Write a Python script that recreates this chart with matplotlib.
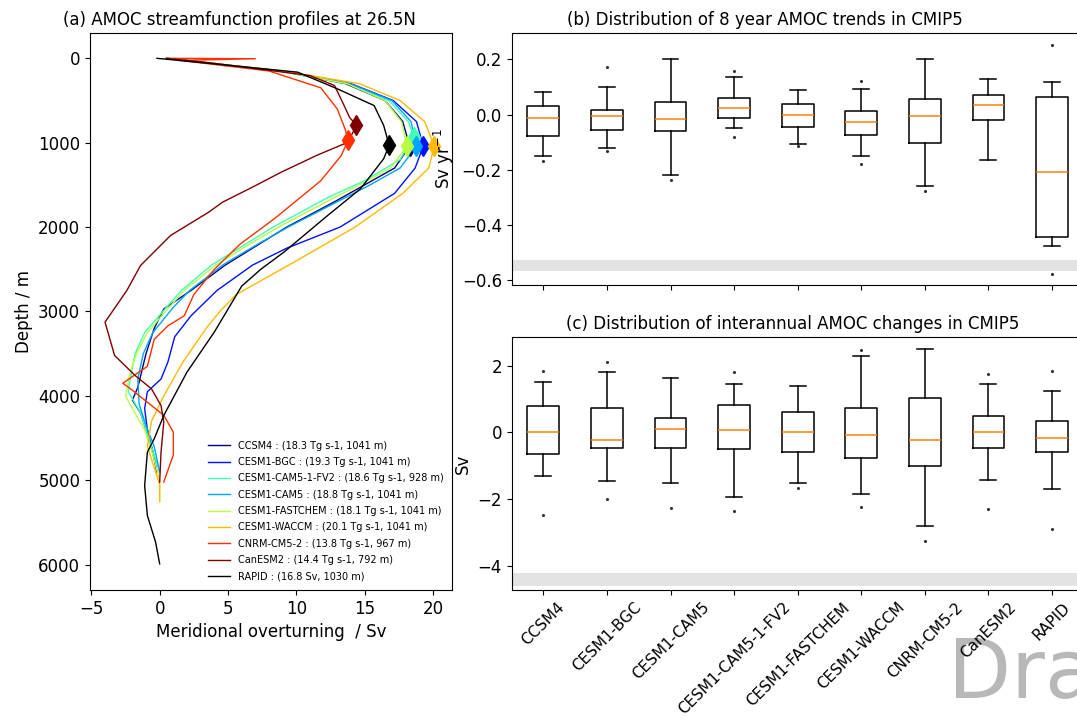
import matplotlib
matplotlib.use("Agg")
import matplotlib.pyplot as plt
import numpy as np

plt.rcParams['font.family'] = ['DejaVu Sans']
plt.rcParams['font.size'] = 12

# ---------------- AMOC profiles at 26.5N (depth in m, transport in Sv) ----------------
ccsm4_depth = [0, 50, 150, 300, 500, 750, 1041, 1300, 1500, 1700, 2000, 2200, 2450, 2750, 2970, 3200, 3500, 3900, 4050, 4200, 4450, 4650, 4900]
ccsm4_sv = [0.5, 3.3, 8.8, 13.6, 16.5, 17.8, 18.3, 17.2, 15.0, 12.8, 9.3, 7.3, 4.8, 2.3, 0.3, -0.4, -1.0, -1.6, -2.0, -1.4, -0.9, -0.5, -0.2]

bgc_depth = [0, 50, 150, 300, 500, 750, 1041, 1300, 1600, 2000, 2250, 2450, 2750, 3050, 3300, 3600, 3800, 3950, 4150, 4400, 4600, 4900]
bgc_sv = [0.5, 3.3, 8.9, 14.0, 17.1, 18.8, 19.3, 18.7, 17.2, 13.2, 9.3, 6.8, 4.2, 2.3, 1.1, 0.6, 0.1, -0.9, -1.1, -0.9, -0.6, -0.2]

fv2_depth = [0, 50, 150, 300, 500, 750, 928, 1200, 1450, 1650, 2000, 2200, 2450, 2750, 2950, 3250, 3500, 3750, 3950, 4200, 4450, 4700, 4900]
fv2_sv = [0.5, 3.3, 8.8, 13.8, 16.8, 18.2, 18.6, 17.6, 15.0, 12.3, 8.3, 6.3, 3.8, 1.6, 0.5, -1.1, -1.8, -2.1, -2.3, -1.4, -0.9, -0.4, 0.0]

cam5_depth = [0, 50, 150, 300, 500, 750, 1041, 1300, 1500, 1700, 2000, 2200, 2450, 2750, 2950, 3250, 3500, 3800, 4100, 4350, 4600, 4900]
cam5_sv = [0.5, 3.3, 8.9, 13.9, 17.0, 18.4, 18.8, 17.6, 15.4, 13.0, 9.4, 7.2, 4.6, 2.2, 1.0, -0.5, -1.2, -1.6, -1.5, -1.0, -0.4, 0.0]

fastchem_depth = [0, 50, 150, 300, 500, 750, 1041, 1300, 1500, 1700, 2000, 2200, 2450, 2750, 2950, 3250, 3500, 3750, 4000, 4150, 4400, 4700, 5000, 5250]
fastchem_sv = [0.5, 3.3, 8.8, 13.7, 16.5, 17.7, 18.1, 16.9, 14.6, 12.2, 8.7, 6.6, 4.1, 1.8, 0.7, -0.9, -1.7, -2.2, -2.5, -2.0, -1.1, -0.5, 0.0, 0.0]

waccm_depth = [0, 50, 150, 300, 500, 750, 1041, 1300, 1600, 2000, 2400, 2600, 2800, 3000, 3200, 3600, 4000, 4300, 4600, 4800, 5050, 5250]
waccm_sv = [0.5, 3.4, 9.0, 14.6, 17.6, 19.4, 20.1, 19.7, 17.8, 14.3, 10.0, 7.8, 5.6, 4.4, 3.4, 1.7, 0.3, -0.6, -0.9, -0.5, 0.0, 0.0]

cnrm_depth = [0, 5, 25, 150, 350, 600, 850, 967, 1150, 1450, 1900, 2200, 2500, 2800, 3050, 3170, 3330, 3650, 3850, 3920, 4230, 4430, 4700, 5020]
cnrm_sv = [0.7, 7.0, 1.5, 8.0, 11.8, 13.0, 13.6, 13.8, 13.3, 11.8, 8.4, 5.9, 4.0, 2.5, 1.8, 0.6, -0.4, -0.9, -2.7, -2.1, 0.3, 1.0, 1.0, 0.3]

canesm2_depth = [0, 50, 204, 322, 559, 700, 792, 993, 1150, 1349, 1526, 1705, 1822, 2099, 2455, 2750, 3126, 3521, 3758, 3916, 4114, 4310, 4666, 5022]
canesm2_sv = [0.5, 3.5, 11.0, 12.8, 13.5, 13.9, 14.4, 13.8, 11.5, 8.9, 6.8, 4.6, 3.6, 0.8, -1.4, -2.4, -4.0, -3.3, -1.8, -0.6, 0.1, 0.3, 0.1, 0.0]

rapid_depth = [0, 50, 164, 361, 560, 796, 1030, 1190, 1546, 1862, 2296, 2500, 2700, 3000, 3244, 3718, 4232, 4508, 4666, 5062, 5417, 5732, 5990]
rapid_sv = [-0.2, 3.0, 10.1, 13.0, 15.7, 16.4, 16.8, 16.4, 14.7, 12.3, 9.1, 7.4, 6.0, 4.9, 4.0, 2.0, 0.3, -0.4, -0.9, -1.1, -0.9, -0.3, 0.0]

# maximum overturning (Sv) and its depth (m), as quoted in the legend
max_sv = [18.3, 19.3, 18.6, 18.8, 18.1, 20.1, 13.8, 14.4, 16.8]
max_depth = [1041, 1041, 928, 1041, 1041, 1041, 967, 792, 1030]

profile_names = ['CCSM4', 'CESM1-BGC', 'CESM1-CAM5-1-FV2', 'CESM1-CAM5', 'CESM1-FASTCHEM',
                 'CESM1-WACCM', 'CNRM-CM5-2', 'CanESM2', 'RAPID']

# ---------------- box statistics ----------------
box_names = ['CCSM4', 'CESM1-BGC', 'CESM1-CAM5', 'CESM1-CAM5-1-FV2', 'CESM1-FASTCHEM',
             'CESM1-WACCM', 'CNRM-CM5-2', 'CanESM2', 'RAPID']

# (b) 8-year trends, Sv/yr
trend_med = [-0.013, -0.004, -0.015, 0.025, 0.000, -0.025, -0.006, 0.035, -0.208]
trend_q1 = [-0.076, -0.055, -0.058, -0.013, -0.043, -0.073, -0.102, -0.018, -0.442]
trend_q3 = [0.030, 0.017, 0.045, 0.059, 0.037, 0.014, 0.057, 0.072, 0.063]
trend_lo = [-0.150, -0.120, -0.217, -0.049, -0.107, -0.148, -0.258, -0.163, -0.474]
trend_hi = [0.083, 0.099, 0.203, 0.137, 0.088, 0.093, 0.201, 0.129, 0.117]
trend_fliers = [[-0.166], [0.173, -0.130], [-0.238], [0.157, -0.079], [-0.113],
                [0.123, -0.179], [-0.276], [], [0.254, -0.578]]
trend_band = (-0.568, -0.525)

# (c) interannual changes, Sv
change_med = [0.00, -0.23, 0.10, 0.07, 0.00, -0.09, -0.23, 0.00, -0.16]
change_q1 = [-0.66, -0.48, -0.47, -0.50, -0.60, -0.76, -1.00, -0.47, -0.60]
change_q3 = [0.78, 0.72, 0.43, 0.82, 0.60, 0.72, 1.02, 0.48, 0.35]
change_lo = [-1.31, -1.45, -1.52, -1.92, -1.52, -1.85, -2.81, -1.43, -1.68]
change_hi = [1.50, 1.80, 1.62, 1.45, 1.38, 2.29, 2.51, 1.45, 1.25]
change_fliers = [[1.84, -2.48], [2.10, -1.98], [-2.26], [1.80, -2.35], [-1.65],
                 [2.47, -2.23], [-3.25], [1.75, -2.30], [1.84, -2.90]]
change_band = (-4.6, -4.2)

# ---------------- figure ----------------
W, H = 1077, 722
fig = plt.figure(figsize=(W / 100, H / 100), dpi=100)
ax_a = fig.add_axes([90 / W, 1 - 590 / H, 362 / W, 557 / H])
ax_b = fig.add_axes([511.6 / W, 1 - 285 / H, 572.2 / W, 252 / H])
ax_c = fig.add_axes([511.6 / W, 1 - 590 / H, 572.2 / W, 252.7 / H])

cmap = plt.get_cmap('jet')
colors = [cmap(0.0), cmap(1 / 7), cmap(3 / 7), cmap(2 / 7), cmap(4 / 7),
          cmap(5 / 7), cmap(6 / 7), cmap(1.0), 'k']

profiles = [(ccsm4_depth, ccsm4_sv), (bgc_depth, bgc_sv), (fv2_depth, fv2_sv),
            (cam5_depth, cam5_sv), (fastchem_depth, fastchem_sv), (waccm_depth, waccm_sv),
            (cnrm_depth, cnrm_sv), (canesm2_depth, canesm2_sv), (rapid_depth, rapid_sv)]

for i, ((dep, sv), name, col) in enumerate(zip(profiles, profile_names, colors)):
    unit = 'Sv' if name == 'RAPID' else 'Tg s-1'
    lab = f'{name} : ({max_sv[i]:.1f} {unit}, {max_depth[i]:d} m)'
    ax_a.plot(sv, dep, color=col, lw=1.0, label=lab)

for i, col in enumerate(colors):
    ax_a.plot(max_sv[i], max_depth[i], marker='d', ms=10, color=col, ls='none', zorder=5)

ax_a.set_xlim(-5.1, 21.4)
ax_a.set_ylim(6300, -300)
ax_a.set_xticks([-5, 0, 5, 10, 15, 20])
ax_a.set_yticks([0, 1000, 2000, 3000, 4000, 5000, 6000])
ax_a.set_xlabel('Meridional overturning  / Sv')
ax_a.set_ylabel('Depth / m')
ax_a.set_title('(a) AMOC streamfunction profiles at 26.5N', fontsize=12, x=0.414)
ax_a.legend(loc='lower right', frameon=False, fontsize=7.0, handlelength=2.2,
            labelspacing=0.65)


def box_stats(med, q1, q3, lo, hi, fliers):
    return [dict(med=m, q1=a, q3=b, whislo=l, whishi=h, fliers=f)
            for m, a, b, l, h, f in zip(med, q1, q3, lo, hi, fliers)]


box_kw = dict(
    boxprops=dict(color='k', lw=1.1),
    whiskerprops=dict(color='k', lw=1.1),
    capprops=dict(color='k', lw=1.1),
    medianprops=dict(color='#ff7f0e', lw=1.1),
    flierprops=dict(marker='.', ms=2.5, mfc='#333333', mec='#333333'),
)

ax_b.axhspan(*trend_band, color='#e3e3e3', lw=0, zorder=0)
ax_b.bxp(box_stats(trend_med, trend_q1, trend_q3, trend_lo, trend_hi, trend_fliers), **box_kw)
ax_b.set_xlim(0.5, 9.5)
ax_b.set_ylim(-0.617, 0.296)
ax_b.set_yticks([0.2, 0.0, -0.2, -0.4, -0.6])
ax_b.set_xticks(range(1, 10))
ax_b.set_xticklabels([])
ax_b.set_ylabel('Sv yr$^{-1}$')
ax_b.set_title('(b) Distribution of 8 year AMOC trends in CMIP5', fontsize=12, x=0.442)

ax_c.axhspan(*change_band, color='#e3e3e3', lw=0, zorder=0)
ax_c.bxp(box_stats(change_med, change_q1, change_q3, change_lo, change_hi, change_fliers), **box_kw)
ax_c.set_xlim(0.5, 9.5)
ax_c.set_ylim(-4.72, 2.85)
ax_c.set_yticks([2, 0, -2, -4])
ax_c.set_xticks(range(1, 10))
ax_c.set_xticklabels(box_names, rotation=45, ha='center', fontsize=11)
ax_c.set_ylabel('Sv')
ax_c.set_title('(c) Distribution of interannual AMOC changes in CMIP5', fontsize=12, x=0.491)

fig.text(948 / W, 1 - 698 / H, 'Draft', fontsize=59, color='#b8b8b8',
         ha='left', va='baseline', zorder=-1)

fig.savefig('out.png', dpi=100)
